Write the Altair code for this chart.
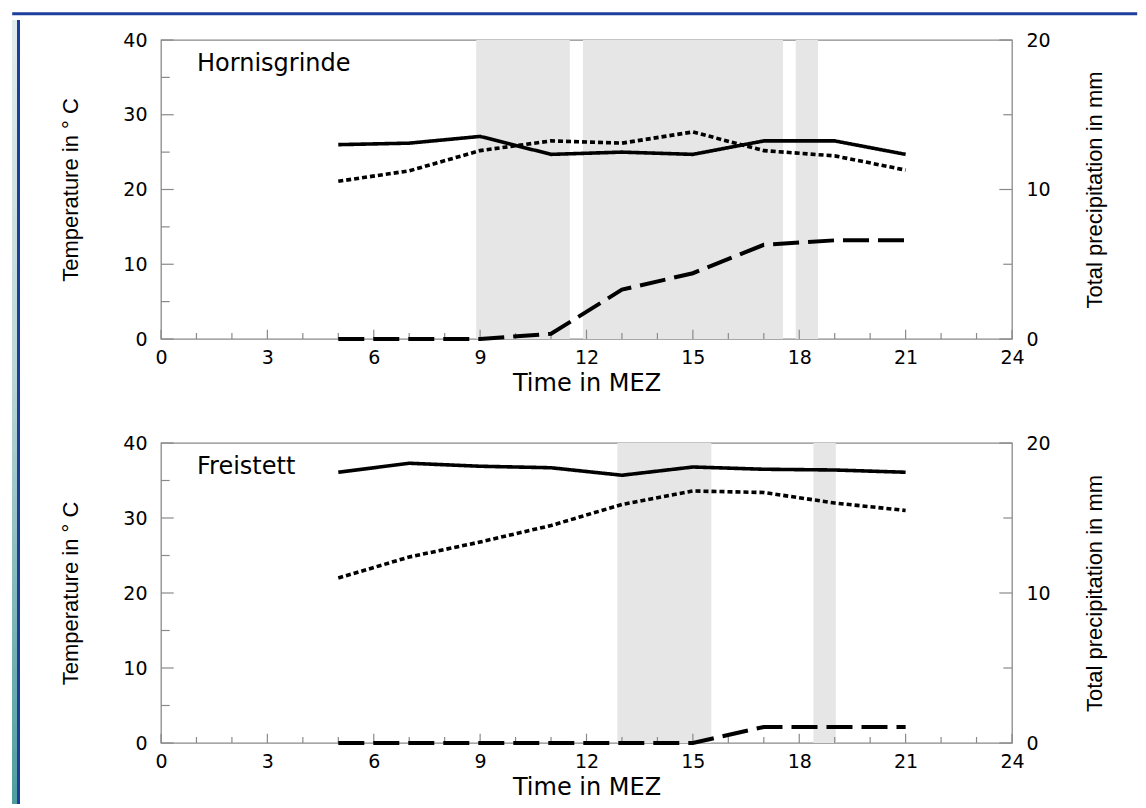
import altair as alt
import pandas as pd

# ---------------- data ----------------
hours = [5, 7, 9, 11, 13, 15, 17, 19, 21]

horn_temp_solid = [26.0, 26.2, 27.1, 24.7, 25.0, 24.7, 26.5, 26.5, 24.7]
horn_temp_dotted = [21.1, 22.5, 25.2, 26.5, 26.2, 27.7, 25.2, 24.5, 22.6]
horn_precip = [0.0, 0.0, 0.0, 0.35, 3.3, 4.4, 6.3, 6.6, 6.6]

frei_temp_solid = [36.1, 37.3, 36.9, 36.7, 35.7, 36.8, 36.5, 36.4, 36.1]
frei_temp_dotted = [22.0, 24.8, 26.8, 29.0, 31.8, 33.6, 33.4, 32.0, 31.0]
frei_precip = [0.0, 0.0, 0.0, 0.0, 0.0, 0.0, 1.07, 1.07, 1.07]

horn_rain_start = [8.89, 11.90, 17.90]
horn_rain_end = [11.53, 17.54, 18.53]
frei_rain_start = [12.87, 18.40]
frei_rain_end = [15.52, 19.03]

hour_ticks_major = [0, 3, 6, 9, 12, 15, 18, 21, 24]
hour_ticks_minor = [1, 2, 4, 5, 7, 8, 10, 11, 13, 14, 16, 17, 19, 20, 22, 23]
temp_ticks_major = [0, 10, 20, 30, 40]
temp_ticks_minor = [5, 15, 25, 35]
precip_ticks_major = [0, 10, 20]
precip_ticks_minor = [5, 15]

# ---------------- style ----------------
W = 851
H_TOP = 299
H_BOT = 300
GREY = "#8a8a8a"
BAND = "#e6e6e6"
BLUE = "#1c3e9c"
LABEL_FONT = "DejaVu Sans"
TITLE_FONT = "Liberation Sans"

x_scale = alt.Scale(domain=[0, 24], nice=False, zero=False)
t_scale = alt.Scale(domain=[0, 40], nice=False)
p_scale = alt.Scale(domain=[0, 20], nice=False)

x_axis = alt.Axis(
    title="Time in MEZ", values=hour_ticks_major, format="d", ticks=False,
    domain=False, grid=False, labelFlush=False, labelOverlap=False,
    labelPadding=9, labelFont=LABEL_FONT, labelFontSize=19, labelColor="black",
    titleFont=LABEL_FONT, titleFontSize=24, titleFontWeight="normal",
    titleColor="black", titlePadding=4,
)
y_left_axis = alt.Axis(
    title="Temperature in ° C", values=temp_ticks_major, format="d", ticks=False,
    domain=False, grid=False, labelFlush=False, labelOverlap=False,
    labelPadding=14, labelFont=LABEL_FONT, labelFontSize=19, labelColor="black",
    titleFont=TITLE_FONT, titleFontSize=22, titleFontWeight="normal",
    titleColor="black", titlePadding=40,
)
y_right_axis = alt.Axis(
    orient="right", title="Total precipitation in mm", values=precip_ticks_major,
    format="d", ticks=False, domain=False, grid=False, labelFlush=False,
    labelOverlap=False, labelPadding=14, labelFont=LABEL_FONT, labelFontSize=19,
    labelColor="black", titleFont=TITLE_FONT, titleFontSize=22,
    titleFontWeight="normal", titleColor="black", titlePadding=34,
    titleAngle=270, titleBaseline="top",
)


def panel(name, t_solid, t_dotted, precip, r_start, r_end, h):
    lines = pd.DataFrame({"hour": hours, "solid": t_solid, "dotted": t_dotted,
                          "precip": precip})
    bands = pd.DataFrame({"start": r_start, "end": r_end})

    band = alt.Chart(bands).mark_rect(color=BAND).encode(
        x=alt.X("start:Q", scale=x_scale, axis=x_axis),
        x2="end:Q",
    )
    temp = alt.Chart(lines).transform_fold(
        ["solid", "dotted"], as_=["series", "temp"]
    ).mark_line(color="black", strokeWidth=3.6, strokeCap="butt").encode(
        x=alt.X("hour:Q", scale=x_scale, axis=x_axis),
        y=alt.Y("temp:Q", scale=t_scale, axis=y_left_axis),
        strokeDash=alt.StrokeDash(
            "series:N",
            scale=alt.Scale(domain=["solid", "dotted"], range=[[1, 0], [5, 3]]),
            legend=None,
        ),
        detail="series:N",
    )
    rain = alt.Chart(lines).mark_line(
        color="black", strokeWidth=4, strokeDash=[26, 9], strokeCap="butt"
    ).encode(
        x=alt.X("hour:Q", scale=x_scale, axis=x_axis),
        y=alt.Y("precip:Q", scale=p_scale, axis=y_right_axis),
    )

    def yticks(vals, scale, x0, x1):
        return alt.Chart(pd.DataFrame({"v": vals})).mark_rule(
            color=GREY, strokeWidth=1.2
        ).encode(
            y=alt.Y("v:Q", scale=scale, axis=None),
            x=alt.value(x0), x2=alt.value(x1),
        )

    def xticks(vals, length):
        return alt.Chart(pd.DataFrame({"v": vals})).mark_rule(
            color=GREY, strokeWidth=1.2
        ).encode(
            x=alt.X("v:Q", scale=x_scale, axis=x_axis),
            y=alt.value(h), y2=alt.value(h - length),
        )

    label = alt.Chart(pd.DataFrame({"name": [name]})).mark_text(
        align="left", baseline="alphabetic", font=LABEL_FONT, fontSize=24,
        color="black",
    ).encode(x=alt.value(36), y=alt.value(31), text="name:N")

    return alt.layer(
        band,
        xticks(hour_ticks_major, 9.3),
        xticks(hour_ticks_minor, 6),
        yticks(temp_ticks_major, t_scale, 0, 12.7),
        yticks(temp_ticks_minor, t_scale, 0, 8.7),
        yticks(precip_ticks_major, p_scale, W, W - 12.7),
        yticks(precip_ticks_minor, p_scale, W, W - 8.7),
        temp,
        rain,
        label,
    ).resolve_scale(y="independent").properties(width=W, height=h)


top = panel("Hornisgrinde", horn_temp_solid, horn_temp_dotted, horn_precip,
            horn_rain_start, horn_rain_end, H_TOP)
bottom = panel("Freistett", frei_temp_solid, frei_temp_dotted, frei_precip,
               frei_rain_start, frei_rain_end, H_BOT)

dummy = pd.DataFrame({"a": [0]})

spacer = alt.Chart(dummy).mark_point(opacity=0).encode(
    x=alt.value(0), y=alt.value(0)
).properties(width=W, height=9, view=alt.ViewBackground(stroke="transparent"))

topbar = alt.Chart(dummy).mark_point(opacity=0).encode(
    x=alt.value(0), y=alt.value(0)
).properties(width=1125, height=3,
             view=alt.ViewBackground(fill=BLUE, stroke="transparent"))

STRIP_H = 784
teal = alt.LinearGradient(
    gradient="linear",
    stops=[alt.GradientStop(offset=0, color="#e2ecec"),
           alt.GradientStop(offset=0.45, color="#bcd6d6"),
           alt.GradientStop(offset=1, color="#4f9d9d")],
    x1=0, x2=0, y1=0, y2=1,
)
strip = alt.layer(
    alt.Chart(dummy).mark_rect(color=teal).encode(
        x=alt.value(0), x2=alt.value(5), y=alt.value(0), y2=alt.value(STRIP_H)),
    alt.Chart(dummy).mark_rect(color=BLUE).encode(
        x=alt.value(5), x2=alt.value(8), y=alt.value(0), y2=alt.value(STRIP_H)),
).properties(width=8, height=STRIP_H, view=alt.ViewBackground(stroke="transparent"))

column = alt.vconcat(spacer, alt.vconcat(top, bottom, spacing=37), spacing=0)

chart = alt.vconcat(
    topbar,
    alt.hconcat(strip, column, spacing=38),
    spacing=0,
).properties(
    padding={"left": 0, "top": 0, "right": 0, "bottom": 0},
    background="white",
).configure_view(stroke=GREY, strokeWidth=1.3)

chart.save("out.html", embed_options={"renderer": "svg", "actions": False})
